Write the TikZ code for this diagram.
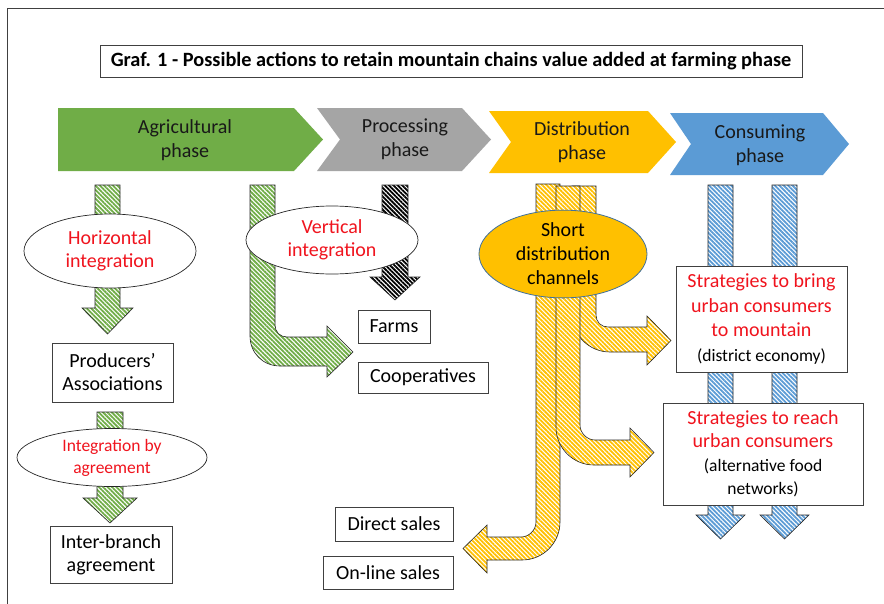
\documentclass[tikz,border=0pt]{standalone}
\usepackage{fontspec}
\setmainfont{Carlito}
\usetikzlibrary{shapes.geometric,patterns.meta}
\definecolor{cgreen}{HTML}{70AD47}
\definecolor{cgray}{HTML}{A5A5A5}
\definecolor{cyellow}{HTML}{FFC000}
\definecolor{cblue}{HTML}{5B9BD5}
\definecolor{cred}{HTML}{F0141E}
\definecolor{edge}{HTML}{404040}
\definecolor{ellborder}{HTML}{41719C}
\begin{document}
\begin{tikzpicture}[x=1pt,y=-1pt,
  every node/.style={font=\fontsize{20}{23}\selectfont, inner sep=0pt},
  hatch/.style={draw=black!85, line width=0.6pt, preaction={fill=white},
    pattern={Lines[angle=-45,distance=3.1pt,line width=1.8pt]}, pattern color=#1},
  box/.style={draw=edge, line width=0.8pt, fill=white, align=center},
  oval/.style={ellipse, draw=black!85, line width=0.7pt, fill=white, align=center, text=cred},
  phase/.style={align=center, text=black!90, font=\fontsize{20}{24}\selectfont},
  small/.style={font=\fontsize{17.5}{21}\selectfont}]
\useasboundingbox (0,0) rectangle (884,603);
\fill[white] (0,0) rectangle (884,603);
\draw[black!75, line width=1pt] (7,8) rectangle (900,620);

% title
\node[box, minimum width=702pt, minimum height=32pt, font=\fontsize{20.3}{22}\selectfont\bfseries] (title) at (451,61)
  {Graf. 1 - Possible actions to retain mountain chains value added at farming phase};

% phase chevrons
\fill[cgreen] (58,108) -- (294,108) -- (323,139.5) -- (294,171) -- (58,171) -- cycle;
\node[phase] (agr) at (185,140) {Agricultural\\phase};
\fill[cgray] (317,108) -- (462,108) -- (491,139.5) -- (462,171) -- (317,171) -- (340,139.5) -- cycle;
\node[phase] (proc) at (405,139) {Processing\\phase};
\fill[cyellow] (489,111) -- (648,111) -- (676,142) -- (648,173) -- (489,173) -- (511,142) -- cycle;
\node[phase] (dist) at (582,142) {Distribution\\phase};
\fill[cblue] (670,113) -- (823,113) -- (849,144) -- (823,175) -- (670,175) -- (691,144) -- cycle;
\node[phase] (cons) at (760,145) {Consuming\\phase};

% left column
\draw[hatch=cgreen] (95,185) -- (120,185) -- (120,308) -- (133,308) -- (107.5,334) -- (82,308) -- (95,308) -- cycle;
\node[oval, minimum width=172pt, minimum height=74pt] (horiz) at (110,251) {Horizontal\\integration};
\node[box, minimum width=121pt, minimum height=59pt] (prod) at (112.5,372.5) {Producers’\\Associations};
\draw[hatch=cgreen] (97,412) -- (123,412) -- (123,498) -- (137,498) -- (110,523) -- (83,498) -- (97,498) -- cycle;
\node[oval, minimum width=190pt, minimum height=58pt, font=\fontsize{17.5}{22}\selectfont] (agree) at (112,457.5) {Integration by\\agreement};
\node[box, minimum width=122pt, minimum height=57pt] (inter) at (111,554.5) {Inter-branch\\agreement};

% middle column
\draw[hatch=cgreen] (250,185) -- (275,185) -- (275,325) .. controls (275,332) and (280,337) .. (287,337)
  -- (327,337) -- (327,326) -- (353,352) -- (327,377) -- (327,366) -- (280,366)
  .. controls (263,366) and (250,353) .. (250,336) -- cycle;
\draw[hatch=black] (382,185) -- (408,185) -- (408,277) -- (420,277) -- (395,300) -- (370,277) -- (382,277) -- cycle;
\node[oval, minimum width=172pt, minimum height=68pt] (vert) at (332,240) {Vertical\\integration};
\node[box, minimum width=72pt, minimum height=33pt] (farms) at (394,326.5) {Farms};
\node[box, minimum width=130pt, minimum height=31pt] (coop) at (423,377.5) {Cooperatives};

% distribution arrows
\draw[hatch=cyellow] (536,184) -- (560,184) -- (560,522) .. controls (560,543) and (543,560) .. (522,560)
  -- (487,560) -- (487,573) -- (463,548.5) -- (487,525) -- (487,537) -- (521,537)
  .. controls (529,537) and (536,530) .. (536,522) -- cycle;
\draw[hatch=cyellow] (572,186) -- (596,186) -- (596,315) .. controls (596,322) and (601,327) .. (608,327)
  -- (647,327) -- (647,316) -- (671,340.5) -- (647,365) -- (647,352) -- (610,352)
  .. controls (589,352) and (572,335) .. (572,314) -- cycle;
\draw[hatch=cyellow] (556,186) -- (580,186) -- (580,425) .. controls (580,433) and (587,440) .. (595,440)
  -- (630,440) -- (630,428) -- (654,452.5) -- (630,477) -- (630,465) -- (594,465)
  .. controls (573,465) and (556,448) .. (556,427) -- cycle;
\node[ellipse, draw=ellborder, line width=0.8pt, fill=cyellow, minimum width=168pt, minimum height=82pt,
  align=center, font=\fontsize{20}{24}\selectfont] (short) at (563,254) {Short\\distribution\\channels};

% consuming arrows
\draw[hatch=cblue] (708,185) -- (733,185) -- (733,515) -- (745,515) -- (720.5,539) -- (696,515) -- (708,515) -- cycle;
\draw[hatch=cblue] (772,185) -- (797,185) -- (797,515) -- (809,515) -- (784.5,539) -- (760,515) -- (772,515) -- cycle;
\node[box, minimum width=171pt, minimum height=106pt, font=\fontsize{20}{24.5}\selectfont] (bring) at (761.5,319)
  {\textcolor{cred}{Strategies to bring}\\\textcolor{cred}{urban consumers}\\\textcolor{cred}{to mountain}\\{\fontsize{17.5}{19}\selectfont (district economy)}};
\node[box, minimum width=200pt, minimum height=102pt, font=\fontsize{20}{23.5}\selectfont] (reach) at (763,454)
  {\textcolor{cred}{Strategies to reach}\\\textcolor{cred}{urban consumers}\\{\fontsize{17.5}{21}\selectfont (alternative food}\\{\fontsize{17.5}{21}\selectfont networks)}};

% sales boxes
\node[box, minimum width=118pt, minimum height=34pt] (direct) at (394,524) {Direct sales};
\node[box, minimum width=130pt, minimum height=33pt] (online) at (388,572.5) {On-line sales};
\end{tikzpicture}
\end{document}
